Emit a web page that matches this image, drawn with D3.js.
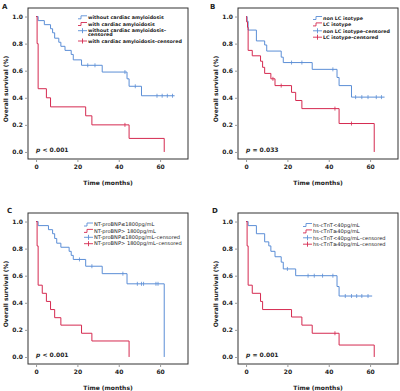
<!DOCTYPE html>
<html>
<head>
<meta charset="utf-8">
<script src="https://cdn.jsdelivr.net/npm/d3@7"></script>
<style>
  body { margin: 0; background: #fff; }
  text { font-family: "DejaVu Sans", sans-serif; font-weight: bold; fill: #222; }
</style>
</head>
<body>
<div id="chart"></div>
<script>
// ---- data ----
const panelLetters = ["A", "B", "C", "D"];
const pValues = ["< 0.001", "= 0.033", "< 0.001", "= 0.001"];
const xTicks = [0, 20, 40, 60];
const yTicks = [0, 0.2, 0.4, 0.6, 0.8, 1.0];

const legendA = ["without cardiac amyloidosis", "with cardiac amyloidosis", "without cardiac amyloidosis\u2013\ncensored", "with cardiac amyloidosis\u2013censored"];
const legendB = ["non LC isotype", "LC isotype", "non LC isotype\u2013censored", "LC isotype\u2013censored"];
const legendC = ["NT-proBNP\u22641800pg/mL", "NT-proBNP> 1800pg/mL", "NT-proBNP\u22641800pg/mL\u2013censored", "NT-proBNP> 1800pg/mL\u2013censored"];
const legendD = ["hs-cTnT<40pg/mL", "hs-cTnT\u226540pg/mL", "hs-cTnT<40pg/mL\u2013censored", "hs-cTnT\u226540pg/mL\u2013censored"];

// [time (months), survival after that time]
const aBlueSteps = [[0,1],[1,0.97],[4,0.94],[7,0.91],[8,0.88],[9,0.84],[11,0.81],[12,0.78],[14,0.75],[17,0.72],[18,0.68],[22,0.64],[32,0.59],[44,0.54],[45,0.485],[51,0.415]];
const aBlueCensor = [25, 28.5, 43, 48, 58.5, 61, 63.5, 66];
const aBlueEnd = 67;
const aRedSteps = [[0,1],[0.5,0.8],[1,0.467],[5,0.40],[7,0.333],[24,0.267],[27,0.20],[45,0.10],[62,0]];
const aRedCensor = [43];
const aRedEnd = 62;

const bBlueSteps = [[0,1],[0.5,0.965],[1,0.90],[5,0.82],[9,0.79],[10,0.745],[17,0.70],[18,0.66],[32,0.61],[44,0.55],[45,0.49],[51,0.405]];
const bBlueCensor = [22, 27, 42, 53, 56, 59, 63, 65.5];
const bBlueEnd = 67;
const bRedSteps = [[0,1],[0.3,0.96],[0.7,0.92],[1,0.75],[3,0.71],[7,0.67],[8,0.625],[9,0.58],[12,0.54],[14,0.49],[22,0.44],[24,0.38],[27,0.32],[45,0.21],[62,0]];
const bRedCensor = [13, 17, 43, 51];
const bRedEnd = 62;

const cBlueSteps = [[0,1],[1,0.97],[6,0.94],[8,0.91],[9,0.875],[10,0.84],[12,0.81],[16,0.78],[17,0.75],[18,0.72],[24,0.67],[32,0.615],[44,0.54],[62,0]];
const cBlueCensor = [21, 27, 42, 49, 51, 52, 58, 59];
const cBlueEnd = 62;
const cRedSteps = [[0,1],[0.5,0.82],[1,0.53],[3,0.47],[5,0.41],[7,0.35],[9,0.29],[12,0.235],[22,0.175],[27,0.118],[45,0]];
const cRedCensor = [];
const cRedEnd = 45;

const dBlueSteps = [[0,1],[1,0.97],[5,0.91],[9,0.85],[11,0.82],[12,0.78],[14,0.74],[17,0.70],[18,0.65],[24,0.60],[44,0.52],[45,0.45]];
const dBlueCensor = [20, 30, 33, 37, 42, 48, 51, 53.5, 56, 59];
const dBlueEnd = 61;
const dRedSteps = [[0,1],[0.5,0.82],[1,0.53],[3,0.47],[7,0.41],[8,0.35],[22,0.295],[27,0.235],[32,0.175],[45,0.088],[62,0]];
const dRedCensor = [43];
const dRedEnd = 62;

const blue = "#5b8ed6";
const red = "#d52a50";

const width = 400, height = 391;

const svg = d3.select("#chart")
  .append("svg")
    .attr("width", width)
    .attr("height", height);

// each panel: origin, letter spot, legend spot
const panels = [
  { ox: 0,   oy: 0,   letter: panelLetters[0], tx: 2, ty: 9, p: pValues[0], legend: legendA, lx: 78,  ly: 17.3, step: 6.7, bold: true,
    blue: { steps: aBlueSteps, censor: aBlueCensor, end: aBlueEnd }, red: { steps: aRedSteps, censor: aRedCensor, end: aRedEnd } },
  { ox: 210, oy: 0,   letter: panelLetters[1], tx: 0, ty: 9, p: pValues[1], legend: legendB, lx: 103, ly: 18, step: 6.4, bold: true,
    blue: { steps: bBlueSteps, censor: bBlueCensor, end: bBlueEnd }, red: { steps: bRedSteps, censor: bRedCensor, end: bRedEnd } },
  { ox: 0,   oy: 205, letter: panelLetters[2], tx: 7, ty: 8, p: pValues[2], legend: legendC, lx: 84,  ly: 19.5, step: 6.4, bold: false,
    blue: { steps: cBlueSteps, censor: cBlueCensor, end: cBlueEnd }, red: { steps: cRedSteps, censor: cRedCensor, end: cRedEnd } },
  { ox: 210, oy: 205, letter: panelLetters[3], tx: 2, ty: 8, p: pValues[3], legend: legendD, lx: 93,  ly: 20, step: 6.4, bold: false,
    blue: { steps: dBlueSteps, censor: dBlueCensor, end: dBlueEnd }, red: { steps: dRedSteps, censor: dRedCensor, end: dRedEnd } }
];

// frame of a plot inside a panel
const fLeft = 28, fRight = 188, fTop = 8, fBottom = 159;

var x = d3.scaleLinear().domain([-3.9, 73.5]).range([fLeft, fRight]);
var y = d3.scaleLinear().domain([-0.052, 1.063]).range([fBottom, fTop]);

function survAt(steps, t) {
  var s = steps[0][1];
  steps.forEach(function(d) { if (d[0] <= t) s = d[1]; });
  return s;
}

function drawCurve(g, curve, color) {
  var pts = curve.steps.slice();
  var last = pts[pts.length - 1];
  if (last[1] > 0) pts.push([curve.end, last[1]]);
  var line = d3.line()
    .x(function(d) { return x(d[0]); })
    .y(function(d) { return y(d[1]); })
    .curve(d3.curveStepAfter);
  g.append("path")
    .attr("d", line(pts))
    .attr("fill", "none")
    .attr("stroke", color)
    .attr("stroke-width", 1);
  // censor ticks
  g.selectAll(null)
    .data(curve.censor)
    .enter()
    .append("line")
      .attr("x1", function(d) { return x(d); })
      .attr("x2", function(d) { return x(d); })
      .attr("y1", function(d) { return y(survAt(curve.steps, d)) - 2; })
      .attr("y2", function(d) { return y(survAt(curve.steps, d)) + 2; })
      .attr("stroke", color)
      .attr("stroke-width", 0.8);
}

panels.forEach(function(p) {
  var g = svg.append("g").attr("transform", "translate(" + p.ox + "," + p.oy + ")");

  // panel letter
  g.append("text").attr("x", p.tx).attr("y", p.ty).style("font-size", "7px").text(p.letter);

  // frame
  g.append("rect")
    .attr("x", fLeft).attr("y", fTop)
    .attr("width", fRight - fLeft).attr("height", fBottom - fTop)
    .attr("fill", "none")
    .attr("stroke", "#333")
    .attr("stroke-width", 1);

  // axes (ticks outside the frame)
  var yAxis = g.append("g")
    .attr("transform", "translate(" + fLeft + ",0)")
    .call(d3.axisLeft(y).tickValues(yTicks).tickFormat(d3.format(".1f")).tickSize(3).tickPadding(2));
  var xAxis = g.append("g")
    .attr("transform", "translate(0," + fBottom + ")")
    .call(d3.axisBottom(x).tickValues(xTicks).tickSize(3).tickPadding(3));
  [xAxis, yAxis].forEach(function(a) {
    a.select(".domain").remove();
    a.selectAll("line").attr("stroke", "#999");
    a.selectAll("text").style("font-size", "6px").style("font-family", "DejaVu Sans").style("font-weight", "bold").attr("fill", "#222");
  });

  // axis titles
  g.append("text")
    .attr("transform", "translate(8,89) rotate(-90)")
    .attr("text-anchor", "middle")
    .style("font-size", "6px")
    .text("Overall survival (%)");
  g.append("text")
    .attr("x", (fLeft + fRight) / 2).attr("y", 185)
    .attr("text-anchor", "middle")
    .style("font-size", "6px")
    .text("Time (months)");

  // curves
  drawCurve(g, p.blue, blue);
  drawCurve(g, p.red, red);

  // p value
  var pt = g.append("text").attr("x", x(0)).attr("y", 152).style("font-size", "6px");
  pt.append("tspan").style("font-style", "italic").text("p");
  pt.append("tspan").text(" " + p.p);

  // legend
  var colors = [blue, red, blue, red];
  var yy = p.ly;
  p.legend.forEach(function(label, i) {
    var lg = g.append("g");
    var lx = p.lx;
    if (i < 2) {
      lg.append("path")
        .attr("d", "M" + lx + "," + (yy + 1.5) + "h3v-3h6")
        .attr("fill", "none").attr("stroke", colors[i]).attr("stroke-width", 0.9);
    } else {
      lg.append("path")
        .attr("d", "M" + lx + "," + yy + "h9M" + (lx + 4.5) + "," + (yy - 2.5) + "v5")
        .attr("fill", "none").attr("stroke", colors[i]).attr("stroke-width", 0.9);
    }
    var lines = label.split("\n");
    var t = lg.append("text")
      .attr("x", lx + 10).attr("y", yy + 1.7)
      .style("font-size", p.bold ? "4.8px" : "5.1px")
      .style("font-weight", p.bold ? "bold" : "normal");
    lines.forEach(function(s, j) {
      t.append("tspan").attr("x", lx + 10).attr("dy", j === 0 ? 0 : 3.8).text(s);
    });
    yy += p.step + (lines.length - 1) * 3.6;
  });
});
</script>
</body>
</html>
